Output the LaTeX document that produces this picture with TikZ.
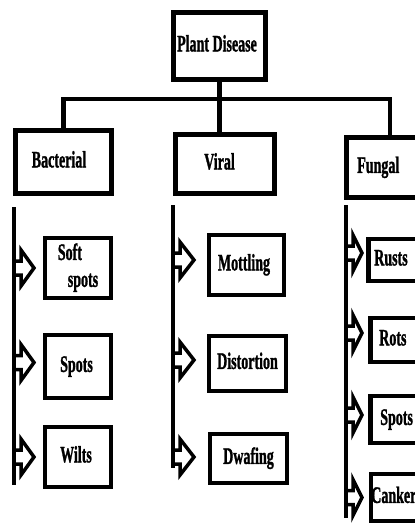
\documentclass[tikz,border=0pt]{standalone}
\usepackage{fontspec}
\setmainfont{Liberation Serif}[BoldFeatures={FakeBold=1.6}]
\usetikzlibrary{calc}
\newcommand\lbl[1]{\scalebox{1}[1.68]{\begin{tabular}{@{}l@{}}#1\end{tabular}}}
\newcommand\harrow[2]{\draw[harr] (#1) ++(0,-7) -- ++(7,0) -- ++(0,-11) -- ++({#2-7},18) -- ++({7-#2},18) -- ++(0,-11) -- ++(-7,0);}
\begin{document}
\begin{tikzpicture}[x=1pt,y=-1pt,
  box/.style={draw,line width=4.5pt,inner sep=0pt,font=\fontsize{14}{16}\selectfont\bfseries},
  conn/.style={line width=4.5pt,line join=miter},
  branch/.style={line width=3.2pt},
  harr/.style={line width=3.5pt,line join=miter}]
\useasboundingbox (0,0) rectangle (415,525);
\clip (0,0) rectangle (415,525);
% top level
\node[box,line width=5pt,minimum width=92,minimum height=67] (pd) at (219.5,46) {\hspace*{-5pt}\lbl{Plant Disease}};
\node[box,line width=5pt,minimum width=96.5,minimum height=63.5] (bac) at (63.5,162) {\hspace*{-9pt}\lbl{Bacterial}};
\node[box,line width=5pt,minimum width=99.5,minimum height=59.5] (vir) at (225,164) {\hspace*{-11pt}\lbl{Viral}};
\node[box,line width=5pt,minimum height=60.5,anchor=west,inner xsep=10.5pt] (fun) at (344.25,167.5) {\makebox[80pt][l]{\lbl{Fungal}}};
% bacterial children
\node[box,minimum width=66,minimum height=60] (ss) at (78,268) {\lbl{Soft\\\hspace*{10pt}spots}};
\node[box,minimum width=66,minimum height=63] (bsp) at (78,366.5) {\hspace*{-3pt}\lbl{Spots}};
\node[box,minimum width=66,minimum height=60] (wi) at (78,457) {\hspace*{-4pt}\lbl{Wilts}};
% viral children
\node[box,minimum width=75,minimum height=60] (mo) at (246.5,265) {\hspace*{-5pt}\lbl{Mottling}};
\node[box,minimum width=77,minimum height=55] (di) at (247.5,363.5) {\lbl{Distortion}};
\node[box,minimum width=77,minimum height=49] (dw) at (248.5,458.5) {\lbl{Dwafing}};
% fungal children
\node[box,minimum height=42,anchor=west,inner xsep=6pt] (ru) at (366,260) {\makebox[80pt][l]{\lbl{Rusts}}};
\node[box,minimum height=44,anchor=west,inner xsep=9pt] (ro) at (368,340) {\makebox[80pt][l]{\lbl{Rots}}};
\node[box,minimum height=47,anchor=west,inner xsep=10pt] (fsp) at (368,419.5) {\makebox[80pt][l]{\lbl{Spots}}};
\node[box,minimum height=47,anchor=west,inner xsep=0.5pt] (ca) at (368.5,497.5) {\makebox[80pt][l]{\lbl{Canker}}};
% connectors
\coordinate (fj) at (390,99);
\draw[conn] (pd.south) -- (pd.south |- fj);
\draw[conn] (bac.north) |- (fj) -- (fj |- fun.north);
\draw[conn] (pd.south |- vir.north) -- (pd.south |- fj);
% branch lines
\coordinate (bt) at (14,207); \coordinate (bb) at (14,485);
\coordinate (vt) at (173,205); \coordinate (vb) at (173,468);
\coordinate (ft) at (346,205); \coordinate (fb) at (346,518);
\draw[branch] (bt) -- (bb);
\draw[branch] (vt) -- (vb);
\draw[branch] (ft) -- (fb);
% hollow arrows
\harrow{bt |- ss.west}{20}
\harrow{$(bt |- bsp.west)+(0,-4)$}{20}
\harrow{bt |- wi.west}{20}
\harrow{$(vt |- mo.west)+(0,-5)$}{21}
\harrow{$(vt |- di.west)+(0,-3.5)$}{21}
\harrow{$(vt |- dw.west)+(0,-1.5)$}{21}
\harrow{$(ft |- ru.west)+(0,-7)$}{16}
\harrow{$(ft |- ro.west)+(0,-7)$}{16}
\harrow{$(ft |- fsp.west)+(0,-4.5)$}{16}
\harrow{ft |- ca.west}{16}
\end{tikzpicture}
\end{document}
